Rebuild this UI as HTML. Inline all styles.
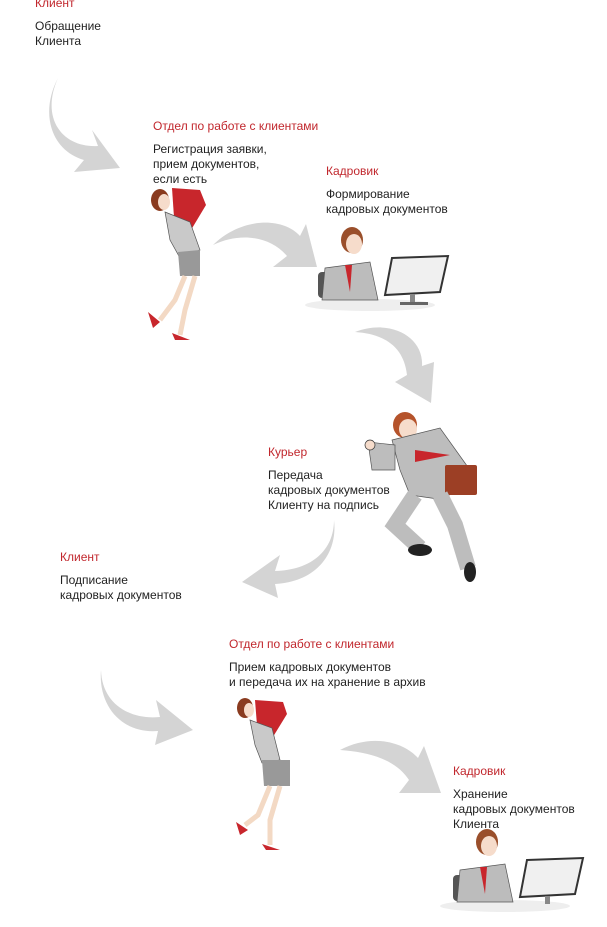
<!DOCTYPE html>
<html><head><meta charset="utf-8"><style>
body{margin:0;width:607px;height:927px;background:#fff;position:relative;overflow:hidden;font-family:"Liberation Sans",sans-serif;font-size:12px;line-height:15px;color:#222}
.t{position:absolute;white-space:nowrap}
.r{color:#c1272d;display:block;margin-bottom:8px}
svg{position:absolute;left:0;top:0}
</style></head><body>
<svg width="607" height="927" viewBox="0 0 607 927">
<g fill="#d4d4d4">
<path d="M58,78 C40,118 62,148 98,146 L92,130 L120,168 L74,172 L84,160 C50,150 40,112 58,78Z"/>
<path d="M213,245 C240,218 282,216 300,236 L306,224 L317,267 L273,267 L287,256 C270,236 240,232 213,245Z"/>
<path d="M355,332 C392,318 424,338 422,366 L434,362 L431,403 L395,382 L407,375 C404,348 386,334 355,332Z"/>
<path d="M334,520 C334,550 312,570 275,571 L280,555 L242,582 L278,598 L275,584 C316,582 338,554 334,520Z"/>
<path d="M101,670 C102,704 130,720 160,717 L156,700 L193,730 L155,745 L158,731 C122,734 98,706 101,670Z"/>
<path d="M340,750 C372,733 404,742 418,758 L424,746 L441,793 L399,793 L409,780 C396,760 370,752 340,750Z"/>
</g>
<g>
<ellipse cx="160" cy="200" rx="9" ry="11" fill="#8a3b1f"/>
<ellipse cx="164" cy="202" rx="6" ry="8" fill="#f6dccb"/>
<polygon points="172,188 200,190 206,205 185,240 175,232" fill="#c8262c"/>
<polygon points="165,212 190,222 200,250 180,258 170,240" fill="#c9c9c9" stroke="#555" stroke-width=".7"/>
<polygon points="178,252 200,250 200,276 180,276" fill="#999"/>
<path d="M185,276 L175,300 L160,320 M195,276 L185,310 L180,335" stroke="#f3d9c4" stroke-width="5" fill="none"/>
<path d="M148,312 L160,322 L153,328Z M172,333 L190,340 L175,340Z" fill="#c8262c"/>
</g>
<g>
<ellipse cx="245" cy="708" rx="8" ry="10" fill="#8a3b1f"/>
<ellipse cx="249" cy="710" rx="5" ry="7" fill="#f6dccb"/>
<polygon points="255,700 283,702 287,714 268,745 258,738" fill="#c8262c"/>
<polygon points="250,720 272,728 280,760 262,763 255,745" fill="#c9c9c9" stroke="#555" stroke-width=".7"/>
<polygon points="262,760 290,760 290,786 264,786" fill="#999"/>
<path d="M270,786 L258,815 L245,825 M280,786 L270,820 L270,845" stroke="#f3d9c4" stroke-width="5" fill="none"/>
<path d="M236,822 L248,830 L240,835Z M262,844 L280,850 L266,850Z" fill="#c8262c"/>
</g>
<g>
<ellipse cx="370" cy="305" rx="65" ry="6" fill="#eee"/>
<rect x="318" y="272" width="10" height="26" rx="4" fill="#555"/>
<polygon points="325,268 370,262 378,300 322,300" fill="#bcbcbc" stroke="#555" stroke-width=".7"/>
<polygon points="345,265 352,265 350,292" fill="#c8262c"/>
<ellipse cx="352" cy="240" rx="11" ry="13" fill="#9a4f2b"/>
<ellipse cx="354" cy="244" rx="8" ry="10" fill="#f6dccb"/>
<polygon points="392,258 448,256 440,292 385,295" fill="#f0f0f0" stroke="#333" stroke-width="2"/>
<rect x="410" y="294" width="5" height="8" fill="#888"/>
<rect x="400" y="302" width="28" height="3" fill="#666"/>
</g>
<g>
<ellipse cx="505" cy="906" rx="65" ry="6" fill="#eee"/>
<rect x="453" y="875" width="10" height="26" rx="4" fill="#555"/>
<polygon points="460,870 505,864 513,902 457,902" fill="#bcbcbc" stroke="#555" stroke-width=".7"/>
<polygon points="480,867 487,867 485,894" fill="#c8262c"/>
<ellipse cx="487" cy="842" rx="11" ry="13" fill="#9a4f2b"/>
<ellipse cx="489" cy="846" rx="8" ry="10" fill="#f6dccb"/>
<polygon points="527,860 583,858 575,894 520,897" fill="#f0f0f0" stroke="#333" stroke-width="2"/>
<rect x="545" y="896" width="5" height="8" fill="#888"/>
</g>
<g>
<ellipse cx="405" cy="425" rx="12" ry="13" fill="#b5532b"/>
<ellipse cx="408" cy="429" rx="9" ry="10" fill="#f6dccb"/>
<polygon points="392,440 440,428 470,470 445,500 410,495 400,470" fill="#bdbdbd" stroke="#555" stroke-width=".7"/>
<polygon points="368,442 395,445 395,470 372,470" fill="#bdbdbd" stroke="#555" stroke-width=".7"/>
<circle cx="370" cy="445" r="5" fill="#f6dccb" stroke="#333" stroke-width=".7"/>
<polygon points="415,450 450,455 415,462" fill="#c8262c"/>
<rect x="445" y="465" width="32" height="30" rx="2" fill="#9c3f25"/>
<path d="M415,495 L395,525 L420,548 M440,495 L455,525 L468,568" stroke="#bdbdbd" stroke-width="16" fill="none"/>
<ellipse cx="420" cy="550" rx="12" ry="6" fill="#222"/>
<ellipse cx="470" cy="572" rx="6" ry="10" fill="#222"/>
</g>
</svg>
<div class="t" style="left:35px;top:-4px"><span class="r">Клиент</span>Обращение<br>Клиента</div>
<div class="t" style="left:153px;top:119px"><span class="r">Отдел по работе с клиентами</span>Регистрация заявки,<br>прием документов,<br>если есть</div>
<div class="t" style="left:326px;top:164px"><span class="r">Кадровик</span>Формирование<br>кадровых документов</div>
<div class="t" style="left:268px;top:445px"><span class="r">Курьер</span>Передача<br>кадровых документов<br>Клиенту на подпись</div>
<div class="t" style="left:60px;top:550px"><span class="r">Клиент</span>Подписание<br>кадровых документов</div>
<div class="t" style="left:229px;top:637px"><span class="r">Отдел по работе с клиентами</span>Прием кадровых документов<br>и передача их на хранение в архив</div>
<div class="t" style="left:453px;top:764px"><span class="r">Кадровик</span>Хранение<br>кадровых документов<br>Клиента</div>
</body></html>
